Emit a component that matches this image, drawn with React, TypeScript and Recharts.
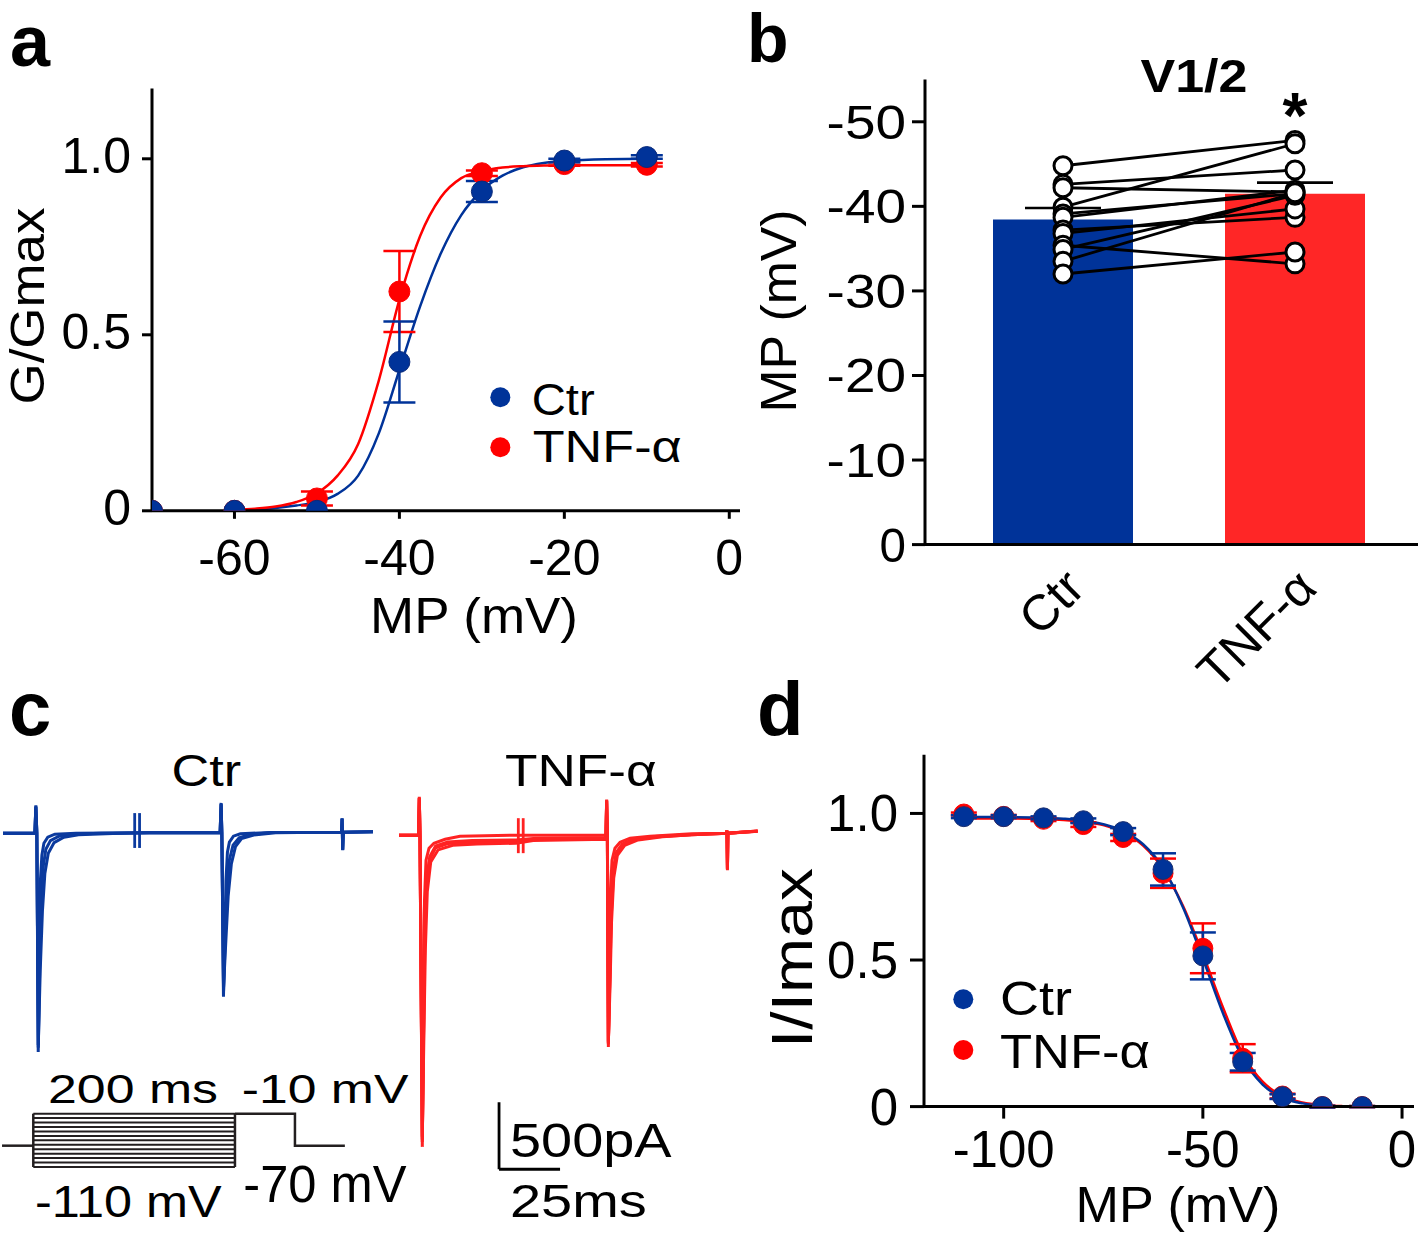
import React from 'react';
import { ComposedChart, LineChart, Line, Bar, Cell, XAxis, YAxis, ErrorBar, ReferenceLine } from 'recharts';

const FONT = "'Liberation Sans', Arial, Helvetica, sans-serif";
const BLUE = '#003399';
const RED = '#ff0000';
const BAR_RED = '#ff2626';
const TRACE_BLUE = '#0b3a9e';
const TRACE_RED = '#ff2222';
const INK = '#000000';
const PROTO = '#231f20';

// ---------- Panel a : activation ----------
const aVolt = [-70, -60, -50, -40, -30, -20, -10];
const aCtrG = [0, 0, 0, 0.423, 0.907, 0.995, 1.005];
const aCtrErr = [0, 0, 0, 0.115, 0.03, 0.005, 0.005];
const aTnfG = [0, 0, 0.035, 0.623, 0.959, 0.985, 0.983];
const aTnfErr = [0, 0, 0.02, 0.115, 0.008, 0.005, 0.005];
const aFitVolt = [-60, -57.5, -55, -52.5, -50, -47.5, -45, -42.5, -40, -37.5, -35, -32.5, -30, -27.5, -25, -22.5, -20, -15, -10];
const aCtrFit = [0.002, 0.004, 0.008, 0.015, 0.025, 0.048, 0.1, 0.22, 0.4, 0.58, 0.73, 0.84, 0.91, 0.952, 0.976, 0.988, 0.994, 0.999, 1.0];
const aTnfFit = [0.003, 0.006, 0.012, 0.025, 0.05, 0.1, 0.19, 0.37, 0.6, 0.78, 0.89, 0.945, 0.965, 0.975, 0.979, 0.981, 0.982, 0.982, 0.982];
const aXTicks = [-60, -40, -20, 0];
const aYTicks = [0, 0.5, 1.0];

// ---------- Panel b : V1/2 ----------
const bGroups = ['Ctr', 'TNF-α'];
const bMeans = [-38.45, -41.5];
const bSemTop = [-39.8, -42.8];
const bCtrCells = [-44.8, -42.6, -42.2, -39.9, -39.1, -38.7, -37.2, -36.8, -35.4, -34.9, -33.5, -32.0];
const bTnfCells = [-47.8, -44.3, -41.7, -47.4, -41.5, -41.9, -38.7, -39.7, -33.2, -41.3, -41.6, -34.6];
const bYTicks = [0, -10, -20, -30, -40, -50];

// ---------- Panel c : current traces (ms, pA) ----------
const ctrT1 = [0, 13.1, 13.5, 13.9, 14.47, 14.96, 15.37, 15.98, 16.8, 18.4, 21.3, 30, 60, 89.2, 89.6, 89.9, 90.57, 91.19, 91.6, 92.2, 93.0, 94.67, 97.5, 110, 139.1, 139.3, 139.55, 139.8, 152];
const ctrI1 = [0, 0, 209, 0, -1632, -873, -351, -164, -75, -30, -7, 0, 3, 5, 226, 5, -1221, -724, -351, -142, -67, -22, -4, 5, 8, 112, -127, 8, 10];
const ctrT2 = [0, 13.1, 13.5, 13.9, 14.5, 15.1, 15.8, 16.6, 17.6, 19.5, 23, 28, 40, 60, 89.2, 89.6, 89.9, 90.6, 91.3, 92.0, 93.0, 94.5, 97, 101, 110, 139.1, 139.3, 139.55, 139.8, 152];
const ctrI2 = [0, 0, 200, 0, -1600, -980, -500, -240, -120, -55, -22, -8, 0, 3, 5, 220, 5, -1180, -780, -420, -200, -90, -35, -12, 5, 8, 110, -125, 8, 10];
const ctrT3 = [0, 13.1, 13.5, 13.9, 14.5, 15.3, 16.2, 17.2, 18.6, 21, 25, 31, 45, 60, 89.2, 89.6, 89.9, 90.6, 91.5, 92.5, 93.8, 95.5, 98, 103, 112, 139.1, 139.3, 139.55, 139.8, 152];
const ctrI3 = [0, 0, 195, 0, -1580, -1020, -580, -300, -150, -70, -30, -12, -3, 3, 5, 215, 5, -1150, -820, -470, -230, -100, -40, -14, 3, 8, 108, -122, 8, 10];
const ctrBreakT = [54.1, 56.1];
const ctrBreakI = [150, -110];

const tnfT1 = [0, 8.0, 8.32, 8.6, 9.55, 10.04, 10.45, 11.07, 12.3, 14.3, 18.9, 25, 48, 84.8, 85.1, 85.4, 85.8, 86.3, 86.7, 87.3, 88.5, 90.6, 94.7, 102.9, 120, 134.2, 134.4, 134.6, 134.8, 147];
const tnfI1 = [0, 0, 286, 0, -2326, -1231, -485, -187, -97, -60, -30, -8, 0, 0, 266, 0, -1580, -933, -410, -187, -97, -52, -22, -7, 10, 15, 37, -261, 15, 32];
const tnfT2 = [0, 8.0, 8.32, 8.6, 9.55, 10.1, 10.6, 11.3, 12.6, 15, 20, 30, 48, 55, 84.8, 85.1, 85.4, 85.8, 86.4, 86.9, 87.7, 89.0, 91.5, 96, 105, 120, 134.2, 134.4, 134.6, 134.8, 147];
const tnfI2 = [0, 0, 280, 0, -2290, -1400, -700, -330, -160, -80, -50, -40, -35, -25, -18, 260, -10, -1560, -1050, -560, -270, -130, -65, -30, -10, 5, 15, 35, -255, 15, 30];
const tnfT3 = [0, 8.0, 8.32, 8.6, 9.55, 10.2, 10.8, 11.6, 13, 16, 22, 32, 48, 55, 84.8, 85.1, 85.4, 85.8, 86.5, 87.1, 88.0, 89.5, 92.5, 98, 108, 120, 134.2, 134.4, 134.6, 134.8, 147];
const tnfI3 = [0, 0, 275, 0, -2250, -1500, -850, -420, -200, -110, -75, -65, -60, -40, -30, 255, -15, -1540, -1120, -650, -320, -150, -75, -35, -12, 3, 15, 33, -250, 15, 30];
const tnfT4 = [0, 8.0, 8.32, 8.6, 9.55, 10.1, 10.6, 11.3, 12.6, 15, 20, 30, 48, 55, 84.8, 85.1, 85.4, 85.8, 86.4, 87.0, 87.9, 89.2, 92, 97, 106, 120, 134.2, 134.4, 134.6, 134.8, 147];
const tnfI4 = [0, 0, 278, 0, -2270, -1450, -780, -380, -180, -95, -62, -52, -48, -32, -24, 258, -12, -1550, -1080, -600, -290, -140, -70, -32, -11, 4, 15, 34, -252, 15, 31];
const tnfBreakT = [48.9, 50.9];
const tnfBreakI = [127, -134];
const scaleBarT = [41, 66];      // 25 ms
const scaleBarI = [-1993, -2493]; // 500 pA

// voltage protocol (schematic, as drawn)
const protoTimes = [0, 31, 231, 290.5, 340];
const protoHold = -70;
const protoTest = -10;
const protoPrepulses = [-110, -101.7, -93.3, -85, -76.7, -68.3, -60, -51.7, -43.3, -35, -26.7, -18.3, -10];

// ---------- Panel d : inactivation ----------
const dVolt = [-110, -100, -90, -80, -70, -60, -50, -40, -30, -20, -10];
const dCtr = [0.989, 0.989, 0.985, 0.975, 0.938, 0.809, 0.514, 0.153, 0.034, 0.0, 0.0];
const dCtrErr = [0.005, 0.005, 0.005, 0.008, 0.012, 0.055, 0.08, 0.03, 0.008, 0.003, 0.002];
const dTnf = [0.998, 0.99, 0.98, 0.962, 0.918, 0.796, 0.54, 0.165, 0.036, 0.0, 0.0];
const dTnfErr = [0.005, 0.005, 0.006, 0.008, 0.012, 0.05, 0.085, 0.048, 0.008, 0.003, 0.002];
const dFitVolt = [-110, -100, -90, -85, -80, -75, -70, -65, -60, -55, -50, -45, -40, -35, -30, -25, -20, -15];
const dCtrFit = [0.988, 0.987, 0.985, 0.982, 0.976, 0.963, 0.94, 0.895, 0.815, 0.68, 0.505, 0.32, 0.165, 0.075, 0.03, 0.011, 0.004, 0.001];
const dTnfFit = [0.983, 0.983, 0.981, 0.978, 0.972, 0.96, 0.935, 0.89, 0.81, 0.685, 0.52, 0.34, 0.18, 0.085, 0.036, 0.014, 0.005, 0.002];
const dXTicks = [-100, -50, 0];
const dYTicks = [0, 0.5, 1.0];

// ---------- derived tables ----------
const pts = (xs: number[], ys: number[], es?: number[]) => xs.map((x, i) => ({ v: x, y: ys[i], e: es ? es[i] : 0 }));
const tr = (ts: number[], is: number[]) => ts.map((t, i) => ({ t, i: is[i] }));

const aCtrPts = pts(aVolt, aCtrG, aCtrErr);
const aTnfPts = pts(aVolt, aTnfG, aTnfErr);
const aCtrFitData = pts(aFitVolt, aCtrFit);
const aTnfFitData = pts(aFitVolt, aTnfFit);

const dCtrPts = pts(dVolt, dCtr, dCtrErr);
const dTnfPts = pts(dVolt, dTnf, dTnfErr);
const dCtrFitData = pts(dFitVolt, dCtrFit);
const dTnfFitData = pts(dFitVolt, dTnfFit);

const bData = bGroups.map((name, gi) => {
  const row: any = { name, mean: bMeans[gi], top: bSemTop[gi] };
  const cells = gi === 0 ? bCtrCells : bTnfCells;
  cells.forEach((val, k) => { row['s' + k] = val; });
  return row;
});

const ctrTraces = [tr(ctrT3, ctrI3), tr(ctrT2, ctrI2), tr(ctrT1, ctrI1)];
const tnfTraces = [tr(tnfT3, tnfI3), tr(tnfT4, tnfI4), tr(tnfT2, tnfI2), tr(tnfT1, tnfI1)];

const protoLines = [
  [{ t: protoTimes[0], i: protoHold }, { t: protoTimes[1], i: protoHold }],
  ...protoPrepulses.map((v) => [{ t: protoTimes[1], i: v }, { t: protoTimes[2], i: v }]),
  [{ t: protoTimes[1], i: protoPrepulses[0] }, { t: protoTimes[1], i: protoPrepulses[protoPrepulses.length - 1] }],
  [{ t: protoTimes[2], i: protoPrepulses[0] }, { t: protoTimes[2], i: protoPrepulses[protoPrepulses.length - 1] }],
  [{ t: protoTimes[2], i: protoTest }, { t: protoTimes[3], i: protoTest }, { t: protoTimes[3], i: protoHold }, { t: protoTimes[4], i: protoHold }],
];

// ---------- tick renderers ----------
const fmt1 = (v: number) => (v === 0 ? '0' : v.toFixed(1));
const yTick = (dx: number, dy: number, size: number, f: (v: number) => string, stretch = 1) => (p: any) => {
  const s = f(p.payload.value);
  const w = stretch !== 1 ? s.length * size * 0.5 * stretch : undefined;
  return (
    <text x={p.x + dx} y={p.y + dy} textAnchor="end" fontSize={size} fontFamily={FONT} fill={INK}
      textLength={w} lengthAdjust={w ? 'spacingAndGlyphs' : undefined}>{s}</text>
  );
};
const xTick = (dy: number, size: number) => (p: any) => (
  <text x={p.x} y={p.y + dy} textAnchor="middle" fontSize={size} fontFamily={FONT} fill={INK}>{String(p.payload.value)}</text>
);
const bXTick = (p: any) => {
  const x = p.x + 24;
  const y = p.y + 46;
  return (
    <text x={x} y={y} textAnchor="end" fontSize={50} fontFamily={FONT} fill={INK} transform={`rotate(-45 ${x} ${y})`}>{p.payload.value}</text>
  );
};
const capDot = (p: any) => (
  <line key={'cap' + p.index} x1={p.cx - 38} x2={p.cx + 38} y1={p.cy} y2={p.cy} stroke={INK} strokeWidth={2.6} />
);

const axisStyle = { stroke: INK, strokeWidth: 3 };

type TProps = { x: number; y: number; s: number; w?: number; a?: 'start' | 'middle' | 'end'; b?: boolean; r?: number; children: React.ReactNode };
const T = ({ x, y, s, w, a = 'start', b = false, r, children }: TProps) => (
  <text
    x={x}
    y={y}
    fontSize={s}
    fontFamily={FONT}
    fontWeight={b ? 'bold' : 'normal'}
    textAnchor={a}
    fill={INK}
    textLength={w}
    lengthAdjust={w ? 'spacingAndGlyphs' : undefined}
    transform={r ? `rotate(${r} ${x} ${y})` : undefined}
  >
    {children}
  </text>
);

const abs = (left: number, top: number): React.CSSProperties => ({ position: 'absolute', left, top });

export default function App() {
  return (
    <div style={{ position: 'absolute', left: 0, top: 0, width: 1418, height: 1235, background: '#fff', overflow: 'hidden', fontFamily: FONT }}>
      {/* Panel a */}
      <div style={abs(0, 0)}>
        <ComposedChart width={760} height={650} margin={{ top: 88.4, right: 20, bottom: 79.2, left: 0 }}>
          <XAxis type="number" dataKey="v" domain={[-70, 1.3]} ticks={aXTicks} height={60} axisLine={axisStyle} tickLine={axisStyle} tickSize={8} tickMargin={0} tick={xTick(56, 50)} allowDataOverflow />
          <YAxis type="number" domain={[0, 1.2]} ticks={aYTicks} width={152} axisLine={axisStyle} tickLine={axisStyle} tickSize={10} tickMargin={0} tick={yTick(-11, 14, 50, fmt1)} allowDataOverflow />
          <Line data={aCtrFitData} dataKey="y" type="monotone" stroke={BLUE} strokeWidth={2.5} dot={false} isAnimationActive={false} />
          <Line data={aTnfFitData} dataKey="y" type="monotone" stroke={RED} strokeWidth={2.5} dot={false} isAnimationActive={false} />
          <Line data={aTnfPts} dataKey="y" stroke="none" dot={{ r: 10.5, fill: RED, stroke: RED, strokeWidth: 1 }} isAnimationActive={false}>
            <ErrorBar dataKey="e" direction="y" width={16} stroke={RED} strokeWidth={2.5} />
          </Line>
          <Line data={aCtrPts} dataKey="y" stroke="none" dot={{ r: 10.5, fill: BLUE, stroke: '#0a2a7a', strokeWidth: 1 }} isAnimationActive={false}>
            <ErrorBar dataKey="e" direction="y" width={16} stroke={BLUE} strokeWidth={2.5} />
          </Line>
        </ComposedChart>
      </div>

      {/* Panel b */}
      <div style={abs(720, 0)}>
        <ComposedChart width={698} height={700} data={bData} margin={{ top: 79.5, right: 0, bottom: 5.4, left: 0 }}>
          <XAxis dataKey="name" type="category" padding={{ left: 22, right: 7 }} height={150} axisLine={axisStyle} tickLine={false} tickSize={0} tickMargin={0} interval={0} tick={bXTick} />
          <YAxis type="number" domain={[-55, 0]} reversed ticks={bYTicks} width={205} axisLine={axisStyle} tickLine={axisStyle} tickSize={13} tickMargin={0} tick={yTick(-6, 17, 49, (v) => String(v), 1.08)} allowDataOverflow />
          <Bar dataKey="mean" barSize={140} isAnimationActive={false}>
            {bData.map((_, i) => (
              <Cell key={i} fill={i === 0 ? BLUE : BAR_RED} />
            ))}
          </Bar>
          <Line dataKey="top" stroke="none" dot={capDot} isAnimationActive={false} />
          {bCtrCells.map((_, k) => (
            <Line key={'l' + k} dataKey={'s' + k} stroke={INK} strokeWidth={2.8} dot={false} isAnimationActive={false} />
          ))}
          {bCtrCells.map((_, k) => (
            <Line key={'d' + k} dataKey={'s' + k} stroke="none" dot={{ r: 9, fill: '#fff', stroke: INK, strokeWidth: 3 }} isAnimationActive={false} />
          ))}
        </ComposedChart>
      </div>

      {/* Panel c : Ctr traces */}
      <div style={abs(3, 792.8)}>
        <LineChart width={370} height={268} margin={{ top: 0, right: 0, bottom: 0, left: 0 }} style={{ overflow: 'visible' }}>
          <XAxis type="number" dataKey="t" domain={[0, 151.6]} hide />
          <YAxis type="number" domain={[-1700, 300]} hide />
          {ctrTraces.map((d, k) => (
            <Line key={k} data={d} dataKey="i" type="linear" stroke={TRACE_BLUE} strokeWidth={3} dot={false} isAnimationActive={false} />
          ))}
          {ctrBreakT.map((t, k) => (
            <ReferenceLine key={'b' + k} segment={[{ x: t, y: ctrBreakI[0] }, { x: t, y: ctrBreakI[1] }]} stroke={TRACE_BLUE} strokeWidth={2.8} />
          ))}
        </LineChart>
      </div>

      {/* Panel c : TNF traces + scale bar */}
      <div style={abs(399, 794.8)}>
        <LineChart width={358.7} height={381.9} margin={{ top: 0, right: 0, bottom: 0, left: 0 }} style={{ overflow: 'visible' }}>
          <XAxis type="number" dataKey="t" domain={[0, 147]} hide />
          <YAxis type="number" domain={[-2550, 300]} hide />
          {tnfTraces.map((d, k) => (
            <Line key={k} data={d} dataKey="i" type="linear" stroke={TRACE_RED} strokeWidth={3} dot={false} isAnimationActive={false} />
          ))}
          {tnfBreakT.map((t, k) => (
            <ReferenceLine key={'b' + k} segment={[{ x: t, y: tnfBreakI[0] }, { x: t, y: tnfBreakI[1] }]} stroke={TRACE_RED} strokeWidth={2.8} />
          ))}
          <ReferenceLine segment={[{ x: scaleBarT[0], y: scaleBarI[0] }, { x: scaleBarT[0], y: scaleBarI[1] }]} stroke={INK} strokeWidth={2.8} />
          <ReferenceLine segment={[{ x: scaleBarT[0], y: scaleBarI[1] }, { x: scaleBarT[1], y: scaleBarI[1] }]} stroke={INK} strokeWidth={2.8} />
        </LineChart>
      </div>

      {/* Panel c : voltage protocol */}
      <div style={abs(2, 1110.6)}>
        <LineChart width={342.9} height={58.7} margin={{ top: 0, right: 0, bottom: 0, left: 0 }} style={{ overflow: 'visible' }}>
          <XAxis type="number" dataKey="t" domain={[0, 340]} hide />
          <YAxis type="number" domain={[-115, -5]} hide />
          {protoLines.map((d, k) => (
            <Line key={k} data={d} dataKey="i" type="linear" stroke={PROTO} strokeWidth={k === 0 || k > protoPrepulses.length ? 2.5 : 2} dot={false} isAnimationActive={false} />
          ))}
        </LineChart>
      </div>

      {/* Panel d */}
      <div style={abs(740, 690)}>
        <ComposedChart width={678} height={545} margin={{ top: 64.8, right: 4, bottom: 68.4, left: 0 }}>
          <XAxis type="number" dataKey="v" domain={[-120, 3]} ticks={dXTicks} height={60} axisLine={axisStyle} tickLine={axisStyle} tickSize={12} tickMargin={0} tick={xTick(48, 51)} allowDataOverflow />
          <YAxis type="number" domain={[0, 1.2]} ticks={dYTicks} width={184} axisLine={axisStyle} tickLine={axisStyle} tickSize={14} tickMargin={0} tick={yTick(-12, 18, 51, fmt1)} allowDataOverflow />
          <Line data={dTnfFitData} dataKey="y" type="monotone" stroke={RED} strokeWidth={2.5} dot={false} isAnimationActive={false} />
          <Line data={dCtrFitData} dataKey="y" type="monotone" stroke={BLUE} strokeWidth={2.5} dot={false} isAnimationActive={false} />
          <Line data={dTnfPts} dataKey="y" stroke="none" dot={{ r: 10, fill: RED, stroke: RED, strokeWidth: 1 }} isAnimationActive={false}>
            <ErrorBar dataKey="e" direction="y" width={13} stroke={RED} strokeWidth={2.5} />
          </Line>
          <Line data={dCtrPts} dataKey="y" stroke="none" dot={{ r: 10, fill: BLUE, stroke: '#1a2f70', strokeWidth: 1 }} isAnimationActive={false}>
            <ErrorBar dataKey="e" direction="y" width={13} stroke={BLUE} strokeWidth={2.5} />
          </Line>
        </ComposedChart>
      </div>

      {/* Text overlay */}
      <svg width={1418} height={1235} style={{ position: 'absolute', left: 0, top: 0, pointerEvents: 'none' }}>
        {/* panel letters */}
        <T x={10} y={65.5} s={72} b>a</T>
        <T x={747} y={62} s={68} b>b</T>
        <T x={9} y={735} s={76} b>c</T>
        <T x={757} y={735} s={76} b>d</T>

        {/* panel a */}
        <T x={44} y={306} s={48} a="middle" r={-90} w={197}>G/Gmax</T>
        <T x={474} y={633} s={50} a="middle" w={208}>MP (mV)</T>
        <circle cx={500.3} cy={397.3} r={10} fill={BLUE} />
        <circle cx={500.3} cy={447.3} r={10} fill={RED} />
        <T x={531.7} y={415} s={44} w={63}>Ctr</T>
        <T x={532.7} y={461.7} s={44} w={149}>TNF-α</T>

        {/* panel b */}
        <T x={796} y={311} s={50} a="middle" r={-90} w={203}>MP (mV)</T>
        <T x={1194} y={91.5} s={46} a="middle" b w={107}>V1/2</T>
        <T x={1295} y={138} s={64} a="middle" b>*</T>

        {/* panel c */}
        <T x={171.6} y={785.6} s={44} w={69.6}>Ctr</T>
        <T x={505} y={785.6} s={44} w={151.7}>TNF-α</T>
        <T x={48} y={1103} s={40} w={170}>200 ms</T>
        <T x={241.7} y={1103} s={40} w={166.7}>-10 mV</T>
        <T x={35} y={1216.7} s={44} w={186.7}>-110 mV</T>
        <T x={243.3} y={1201.7} s={51} w={163.3}>-70 mV</T>
        <T x={510} y={1157} s={48} w={161.6}>500pA</T>
        <T x={510} y={1216.6} s={46} w={136.8}>25ms</T>

        {/* panel d */}
        <T x={812} y={958} s={58} a="middle" r={-90} w={180}>I/Imax</T>
        <T x={1178} y={1222} s={50} a="middle" w={205}>MP (mV)</T>
        <circle cx={963.3} cy={999.3} r={10} fill={BLUE} />
        <circle cx={963.3} cy={1050} r={10} fill={RED} />
        <T x={1000} y={1015} s={48} w={72}>Ctr</T>
        <T x={1000} y={1068} s={48} w={150}>TNF-α</T>
      </svg>
    </div>
  );
}
